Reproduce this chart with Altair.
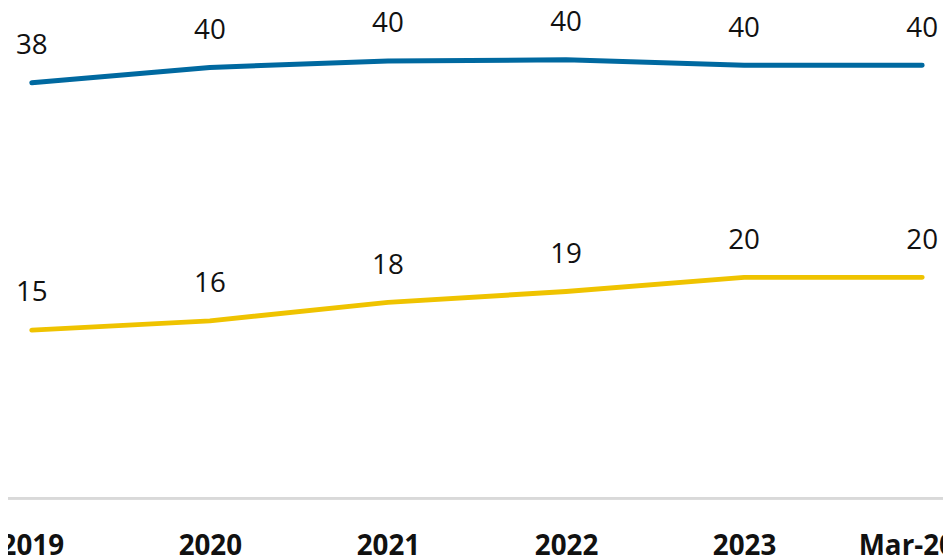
import altair as alt
import pandas as pd

periods = ["2019", "2020", "2021", "2022", "2023", "Mar-2024"]
upper = [38.2, 39.6, 40.2, 40.3, 39.8, 39.8]
lower = [15.45, 16.3, 18.0, 19.0, 20.3, 20.3]
series_names = ["Upper", "Lower"]
colors = ["#0069A0", "#EFC300"]

rows = []
for name, vals in zip(series_names, [upper, lower]):
    for p, v in zip(periods, vals):
        rows.append({"period": p, "series": name, "value": v})
df = pd.DataFrame(rows)

W = 943
H = 492

x = alt.X(
    "period:O",
    sort=periods,
    scale=alt.Scale(type="point", range=[24, 922], padding=0),
    axis=alt.Axis(
        title=None,
        labelAngle=0,
        labelFont="Open Sans",
        labelFontWeight="bold",
        labelFontSize=28,
        labelColor="#111111",
        labelPadding=35,
        labelOverlap=False,
        ticks=False,
        grid=False,
        domain=False,
    ),
)
y = alt.Y("value:Q", scale=alt.Scale(domain=[0, 44.85]), axis=None)
color = alt.Color("series:N", scale=alt.Scale(domain=series_names, range=colors), legend=None)

baseline = alt.Chart(df).mark_rule(color="#d9d9d9", strokeWidth=2).encode(
    x=alt.value(0), x2=alt.value(W), y=alt.value(H)
)

base = alt.Chart(df).encode(x=x, y=y)
lines = base.mark_line(strokeWidth=5, strokeCap="round", strokeJoin="round").encode(color=color)
labels = base.mark_text(
    dy=-29, baseline="alphabetic", fontSize=28, font="Open Sans", color="#111111"
).encode(text=alt.Text("value:Q", format=".0f"))

chart = (
    alt.layer(baseline, lines, labels)
    .properties(
        width=W,
        height=H,
        autosize=alt.AutoSizeParams(type="none"),
        padding={"left": 0, "top": 0, "right": 0, "bottom": 60},
    )
    .configure_view(stroke=None)
)

chart.save("out.html", embed_options={"renderer": "svg", "actions": False})
